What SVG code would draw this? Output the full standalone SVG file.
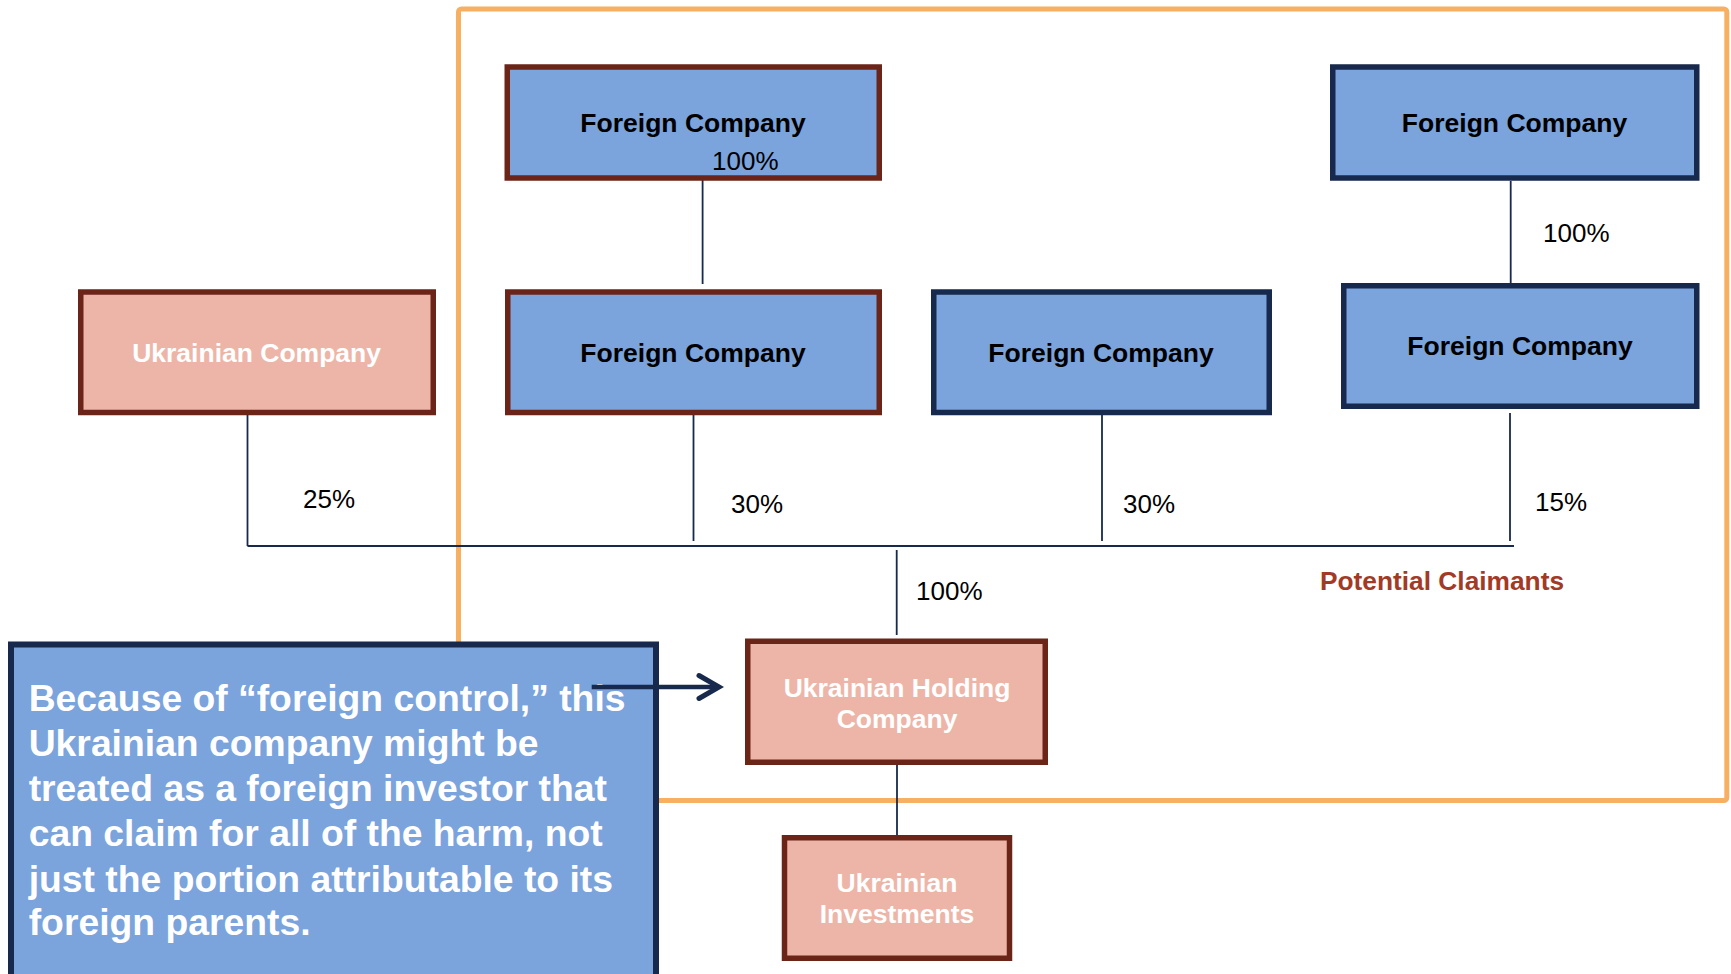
<svg xmlns="http://www.w3.org/2000/svg" width="1731" height="974" viewBox="0 0 1731 974">
<style>
.fc{fill:#7BA3DC;stroke-width:5.5}
.br{stroke:#6B2518}
.nv{stroke:#17294C}
.uk{fill:#EDB5A8;stroke:#6B2518;stroke-width:5.5}
.t{font-family:"Liberation Sans",Arial,sans-serif;font-weight:bold;font-size:26.5px;text-anchor:middle}
.dark{fill:#000}
.wh{fill:#FFFFFF}
.pct{font-family:"Liberation Sans",Arial,sans-serif;font-size:26px;fill:#000}
.ln{stroke:#17294C;stroke-width:1.8;fill:none}
.call{font-family:"Liberation Sans",Arial,sans-serif;font-weight:bold;font-size:37.3px;fill:#FFFFFF}
</style>
<rect width="1731" height="974" fill="#FFFFFF"/>
<g id="frame">
<rect x="458.5" y="9" width="1268.3" height="791.5" rx="3" fill="none" stroke="#F7B061" stroke-width="5"/>
</g>
<g id="connectors">
<line class="ln" x1="702.6" y1="178" x2="702.6" y2="284"/>
<line class="ln" x1="1510.7" y1="181" x2="1510.7" y2="283"/>
<line class="ln" x1="247.5" y1="415" x2="247.5" y2="546"/>
<line class="ln" x1="693.5" y1="415" x2="693.5" y2="541"/>
<line class="ln" x1="1102" y1="415" x2="1102" y2="541"/>
<line class="ln" x1="1510" y1="413" x2="1510" y2="541"/>
<line class="ln" x1="247.5" y1="546" x2="1514" y2="546"/>
<line class="ln" x1="896.7" y1="550" x2="896.7" y2="635"/>
<line class="ln" x1="897" y1="765" x2="897" y2="835"/>
</g>
<g id="fc1">
<rect class="fc br" x="507.25" y="67" width="372" height="111"/>
<text class="t dark" x="693" y="132">Foreign Company</text>
</g>
<g id="fc2">
<rect class="fc br" x="507.75" y="292" width="371.5" height="120.5"/>
<text class="t dark" x="693" y="362">Foreign Company</text>
</g>
<g id="ukrainian-company">
<rect class="uk" x="80.75" y="292" width="352.5" height="120.5"/>
<text class="t wh" x="256.6" y="362">Ukrainian Company</text>
</g>
<g id="fc3">
<rect class="fc nv" x="933.75" y="292" width="335.5" height="120.5"/>
<text class="t dark" x="1101" y="362">Foreign Company</text>
</g>
<g id="fc4">
<rect class="fc nv" x="1332.75" y="67" width="364" height="111"/>
<text class="t dark" x="1514.5" y="132">Foreign Company</text>
</g>
<g id="fc5">
<rect class="fc nv" x="1343.75" y="285.75" width="353" height="120.5"/>
<text class="t dark" x="1520" y="355">Foreign Company</text>
</g>
<g id="holding">
<rect class="uk" x="747.75" y="641.25" width="297.5" height="121"/>
<text class="t wh" x="897" y="697">Ukrainian Holding</text>
<text class="t wh" x="897" y="728">Company</text>
</g>
<g id="investments">
<rect class="uk" x="784.5" y="837.75" width="225" height="120.5"/>
<text class="t wh" x="897" y="892">Ukrainian</text>
<text class="t wh" x="897" y="923">Investments</text>
</g>
<g id="labels">
<text class="pct" x="712" y="170">100%</text>
<text class="pct" x="1543" y="242">100%</text>
<text class="pct" x="303" y="508">25%</text>
<text class="pct" x="731" y="512.6">30%</text>
<text class="pct" x="1123" y="512.6">30%</text>
<text class="pct" x="1535" y="510.5">15%</text>
<text class="pct" x="916" y="600">100%</text>
<text x="1320" y="589.6" font-family="'Liberation Sans',Arial,sans-serif" font-weight="bold" font-size="26.3" fill="#A33A25">Potential Claimants</text>
</g>
<g id="callout">
<rect x="11" y="644.5" width="645" height="400" fill="#7BA3DC" stroke="#17294C" stroke-width="6"/>
<text class="call" x="28.7" y="711">Because of “foreign control,” this</text>
<text class="call" x="28.7" y="756">Ukrainian company might be</text>
<text class="call" x="28.7" y="801">treated as a foreign investor that</text>
<text class="call" x="28.7" y="846">can claim for all of the harm, not</text>
<text class="call" x="28.7" y="891.5">just the portion attributable to its</text>
<text class="call" x="28.7" y="935">foreign parents.</text>
</g>
<g id="arrow">
<line x1="591.7" y1="687" x2="716" y2="687" stroke="#17294C" stroke-width="4.5"/>
<polyline points="699,675.5 719,687 699,698.5" fill="none" stroke="#17294C" stroke-width="5" stroke-linecap="round" stroke-linejoin="miter"/>
</g>
</svg>
